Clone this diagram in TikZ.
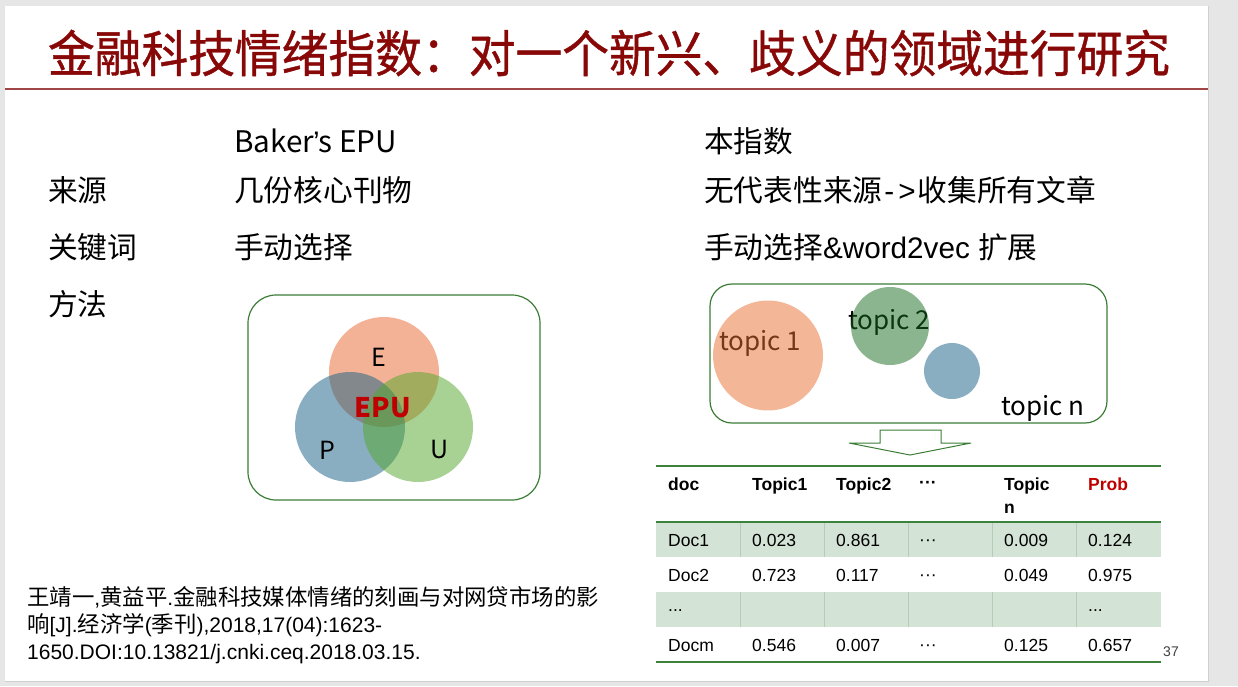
\documentclass[tikz,border=0pt]{standalone}
\usepackage{fontspec}
\setmainfont{Liberation Sans}
\newfontfamily\cjk{Noto Sans CJK SC}
\newfontfamily\titlefont{Noto Sans CJK SC}[FakeStretch=0.935,FakeBold=0.8]
\newcommand{\zh}[1]{{\cjk #1}}

\definecolor{pagegray}{HTML}{E6E6E6}
\definecolor{slideedge}{HTML}{CFCFCF}
\definecolor{titlered}{HTML}{880808}
\definecolor{rulered}{HTML}{A04545}
\definecolor{boxgreen}{HTML}{3B7D35}
\definecolor{ruleg}{HTML}{3C823C}
\definecolor{epuE}{RGB}{233,103,45}
\definecolor{epuP}{RGB}{21,95,133}
\definecolor{epuU}{RGB}{83,167,41}
\definecolor{topicA}{RGB}{233,111,47}
\definecolor{topicB}{RGB}{23,109,31}
\definecolor{epured}{HTML}{C00000}
\definecolor{rowshade}{HTML}{D3E3D5}
\definecolor{colsep}{HTML}{B3CEB5}
\definecolor{pagenum}{HTML}{404040}

\begin{document}
\begin{tikzpicture}[x=1pt,y=-1pt,
  body/.style={inner sep=0, anchor=base west, font=\fontsize{29.7}{35}\selectfont},
  zbody/.style={body, font=\fontsize{29.7}{35}\cjk},
  cell/.style={inner sep=0, anchor=base west, font=\fontsize{17.5}{21}\selectfont},
  hcell/.style={cell, font=\fontsize{17.5}{21}\selectfont\bfseries},
  frame/.style={draw=boxgreen, line width=1.2},
  blob/.style={fill opacity=0.5},
  vlabel/.style={inner sep=0, font=\fontsize{25}{30}\cjk},
  tlabel/.style={inner sep=0, font=\fontsize{26}{30}\cjk},
  cite/.style={inner sep=0, anchor=base west, font=\fontsize{21}{27}\selectfont}
]
\useasboundingbox (0,0) rectangle (1238,686);
% page and slide
\fill[pagegray] (0,0) rectangle (1238,686);
\fill[white] (5,6) rectangle (1208,681);
\draw[slideedge, line width=1] (1208.5,6) -- (1208.5,681.5) -- (5,681.5);

% title
\node[inner sep=0, text=titlered, font=\fontsize{50}{52}\titlefont] (title) at (609,53)
  {金融科技情绪指数：对一个新兴、歧义的领域进行研究};
\draw[rulered, line width=1.6] (5,89) -- (1208,89);

% left column labels
\node[zbody] (lsrc) at (48,201.5) {来源};
\node[zbody] (lkey) at (48,258.5) {关键词};
\node[zbody] (lmeth) at (48,315.5) {方法};

% Baker's EPU column
\node[zbody] (bhead) at (234,152.5) {Baker{\rmfamily\kern-1pt’\kern-1pt}s EPU};
\node[zbody] (bsrc) at (234,201.5) {几份核心刊物};
\node[zbody] (bkey) at (234,258.5) {手动选择};

% this index column
\node[zbody] (ihead) at (704,152.5) {本指数};
\node[body] (isrc) at (704,201.5) {\zh{无代表性来源}\kern2pt-\kern4pt>\kern2pt\zh{收集所有文章}};
\node[body] (ikey) at (704,258.5) {\zh{手动选择}\&word2vec \zh{扩展}};

% EPU Venn diagram
\draw[frame, rounded corners=28] (248,295) rectangle (540,500);
\fill[epuE, blob] (384,372) circle (55);
\fill[epuP, blob] (350,427) circle (55);
\fill[epuU, blob] (418,427) circle (55);
\node[vlabel] (vE) at (379,357) {E};
\node[vlabel] (vP) at (327,450) {P};
\node[vlabel] (vU) at (440,449) {U};
\node[inner sep=0, text=epured, font=\fontsize{27}{30}\cjk\bfseries] (vEPU) at (383,408) {EPU};

% topic bubbles
\draw[frame, rounded corners=22] (710,284) rectangle (1107,423);
\node[tlabel] (t1) at (760,343) {topic 1};
\node[tlabel] (t2) at (889,322) {topic 2};
\node[tlabel] (tn) at (1043,408) {topic n};
\fill[topicA, blob] (768,355.5) circle (55);
\fill[topicB, blob] (890,326) circle (39);
\fill[epuP, blob] (952,371) circle (28);

% block arrow down to the table
\draw[boxgreen, line width=1, fill=white, line join=miter]
  (880,430) -- (941,430) -- (941,443) -- (971,443) -- (910,455) -- (849,443) -- (880,443) -- cycle;

% table shading and rules
\fill[rowshade] (656,523) rectangle (1161,557);
\fill[rowshade] (656,592) rectangle (1161,627);
\foreach \cx in {740,824,908,992,1076}{
  \draw[colsep, line width=1] (\cx,523) -- (\cx,557);
  \draw[colsep, line width=1] (\cx,592) -- (\cx,627);
}
\draw[ruleg, line width=1.5] (656,466) -- (1161,466);
\draw[ruleg, line width=2] (656,522) -- (1161,522);
\draw[ruleg, line width=2] (656,662) -- (1161,662);

% header
\node[hcell] (hdoc) at (668,490.3) {doc};
\node[hcell] (ht1) at (752,490.3) {Topic1};
\node[hcell] (ht2) at (836,490.3) {Topic2};
\node[hcell] (hdots) at (919,488) {···};
\node[hcell] (htn) at (1004,490.3) {Topic};
\node[hcell] (htn2) at (1004,513) {n};
\node[hcell, text=epured] (hprob) at (1088,490.3) {Prob};

% rows
\node[cell] (d1a) at (668,546.3) {Doc1};
\node[cell] (d1b) at (752,546.3) {0.023};
\node[cell] (d1c) at (836,546.3) {0.861};
\node[cell] (d1d) at (919,545) {···};
\node[cell] (d1e) at (1004,546.3) {0.009};
\node[cell] (d1f) at (1088,546.3) {0.124};

\node[cell] (d2a) at (668,581.3) {Doc2};
\node[cell] (d2b) at (752,581.3) {0.723};
\node[cell] (d2c) at (836,581.3) {0.117};
\node[cell] (d2d) at (919,580) {···};
\node[cell] (d2e) at (1004,581.3) {0.049};
\node[cell] (d2f) at (1088,581.3) {0.975};

\node[cell] (d3a) at (668,611) {...};
\node[cell] (d3f) at (1088,611) {...};

\node[cell] (dma) at (668,651.3) {Docm};
\node[cell] (dmb) at (752,651.3) {0.546};
\node[cell] (dmc) at (836,651.3) {0.007};
\node[cell] (dmd) at (919,650) {···};
\node[cell] (dme) at (1004,651.3) {0.125};
\node[cell] (dmf) at (1088,651.3) {0.657};

% page number
\node[inner sep=0, anchor=base west, text=pagenum, font=\fontsize{14}{16}\selectfont] (pg) at (1163,656) {37};

% reference
\node[cite] (c1) at (27,605) {{\fontsize{22.4}{27}\cjk 王靖一},{\fontsize{22.4}{27}\cjk 黄益平}.{\fontsize{22.4}{27}\cjk 金融科技媒体情绪的刻画与对网贷市场的影}};
\node[cite] (c2) at (27,632) {{\fontsize{22.4}{27}\cjk 响}[J].{\fontsize{22.4}{27}\cjk 经济学}({\fontsize{22.4}{27}\cjk 季刊}),2018,17(04):1623-};
\node[cite] (c3) at (27,659) {1650.DOI:10.13821/j.cnki.ceq.2018.03.15.};
\end{tikzpicture}
\end{document}
